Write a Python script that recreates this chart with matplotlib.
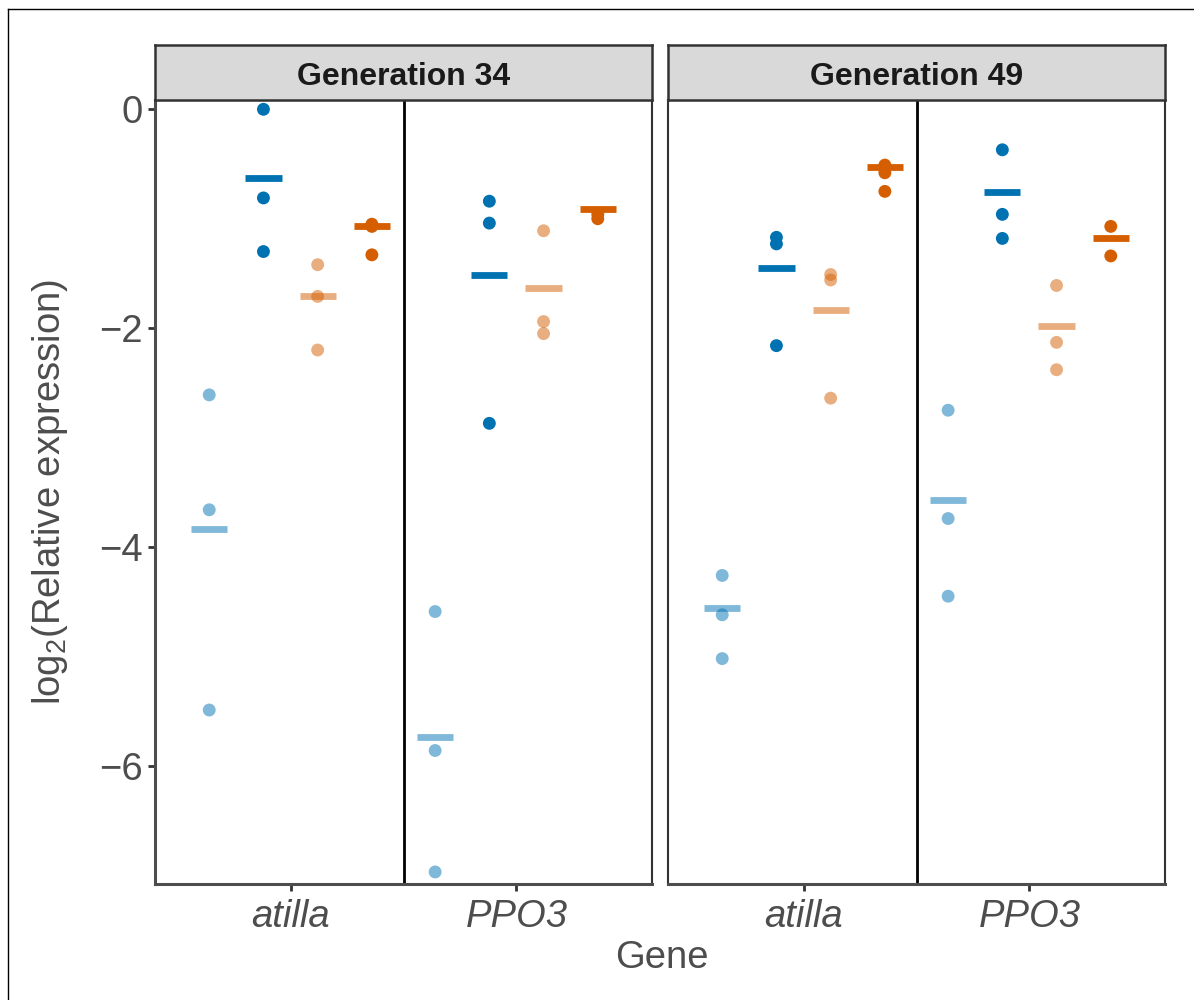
import numpy as np
import matplotlib
matplotlib.use("Agg")
import matplotlib.pyplot as plt
from matplotlib.lines import Line2D

plt.rcParams['font.family'] = ['Liberation Sans', 'DejaVu Sans']
plt.rcParams['mathtext.default'] = 'regular'

# ---- data ----
generations = ["Generation 34", "Generation 49"]
genes = ["atilla", "PPO3"]
groups = ["blue_light", "blue", "orange_light", "orange"]
group_colors = ["#0072B2", "#0072B2", "#D55E00", "#D55E00"]
group_alpha = [0.5, 1.0, 0.5, 1.0]

# replicate values, per generation -> gene -> group
gen34_atilla = [[-2.61, -3.66, -5.49], [0.0, -0.81, -1.30], [-1.42, -1.71, -2.20], [-1.05, -1.07, -1.33]]
gen34_ppo3 = [[-4.59, -5.86, -6.97], [-0.84, -1.04, -2.87], [-1.11, -1.94, -2.05], [-0.96, -1.00]]
gen49_atilla = [[-4.26, -4.62, -5.02], [-1.17, -1.23, -2.16], [-1.51, -1.56, -2.64], [-0.51, -0.58, -0.75]]
gen49_ppo3 = [[-2.75, -3.74, -4.45], [-0.37, -0.96, -1.18], [-1.61, -2.13, -2.38], [-1.07, -1.34]]

# mean bars
gen34_atilla_mean = [-3.84, -0.63, -1.71, -1.07]
gen34_ppo3_mean = [-5.74, -1.51, -1.63, -0.91]
gen49_atilla_mean = [-4.56, -1.45, -1.83, -0.53]
gen49_ppo3_mean = [-3.57, -0.76, -1.98, -1.18]

points = {"Generation 34": [gen34_atilla, gen34_ppo3],
          "Generation 49": [gen49_atilla, gen49_ppo3]}
means = {"Generation 34": [gen34_atilla_mean, gen34_ppo3_mean],
         "Generation 49": [gen49_atilla_mean, gen49_ppo3_mean]}

# ---- layout ----
W, H = 1194, 1000
fig = plt.figure(figsize=(W / 100, H / 100), dpi=100)

dodge = [-0.36, -0.12, 0.12, 0.36]
half_bar = 0.08
grey_txt = "#4D4D4D"
border = "#333333"

panel_left = [155, 668]
panel_w = 497
panel_top, panel_bot = 100, 884
strip_top = 45

for k, gen in enumerate(generations):
    l = panel_left[k] / W
    ax = fig.add_axes([l, (H - panel_bot) / H, panel_w / W, (panel_bot - panel_top) / H])
    sax = fig.add_axes([l, (H - panel_top) / H, panel_w / W, (panel_top - strip_top) / H])

    for gi, gene in enumerate(genes):
        for j in range(len(groups)):
            x = gi + 1 + dodge[j]
            ys = points[gen][gi][j]
            ax.scatter([x] * len(ys), ys, s=86, color=group_colors[j], alpha=group_alpha[j],
                       edgecolors="none", zorder=3)
            m = means[gen][gi][j]
            ax.plot([x - half_bar, x + half_bar], [m, m], color=group_colors[j],
                    alpha=group_alpha[j], lw=4.9, solid_capstyle="butt", zorder=4)

    ax.axvline(1.5, color="black", lw=2, zorder=2)
    ax.set_xlim(0.4, 2.6)
    ax.set_ylim(-7.08, 0.085)
    ax.set_xticks([1, 2])
    ax.set_xticklabels(genes, fontsize=27.5, style="italic", color=grey_txt)
    ax.set_yticks([0, -2, -4, -6])
    if k == 0:
        ax.set_yticklabels(["0", "\u22122", "\u22124", "\u22126"], fontsize=27.5, color=grey_txt)
        ax.tick_params(axis="y", length=5, width=2, color=border, pad=4)
    else:
        ax.tick_params(axis="y", left=False, labelleft=False)
    ax.tick_params(axis="x", length=5, width=2, color=border, pad=6)
    for sp in ax.spines.values():
        sp.set_color(border)
        sp.set_linewidth(1.5)
    ax.spines["bottom"].set_linewidth(2.2)
    ax.spines["bottom"].set_color("#4D4D4D")
    if k == 0:
        ax.spines["left"].set_linewidth(2.2)
        ax.spines["left"].set_color("#4D4D4D")

    sax.set_facecolor("#D9D9D9")
    sax.set_xticks([])
    sax.set_yticks([])
    for sp in sax.spines.values():
        sp.set_color(border)
        sp.set_linewidth(1.8)
    sax.text(0.5, 0.42, gen, transform=sax.transAxes, ha="center", va="center",
             fontsize=23, fontweight="bold", color="#1A1A1A")

# axis titles
fig.text(662 / W, 1 - 958 / H, "Gene", ha="center", va="center", fontsize=27.5, color=grey_txt)
fig.text(50 / W, 1 - 492 / H, "log$_2$(Relative expression)", ha="center", va="center",
         rotation=90, fontsize=27.5, color=grey_txt)

# outer frame lines (left and top)
fig.add_artist(Line2D([8 / W, 8 / W], [0, 1 - 9 / H], color="black", lw=1, transform=fig.transFigure))
fig.add_artist(Line2D([8 / W, 1], [1 - 9 / H, 1 - 9 / H], color="black", lw=1, transform=fig.transFigure))

fig.savefig("out.png", dpi=100, facecolor="white")
